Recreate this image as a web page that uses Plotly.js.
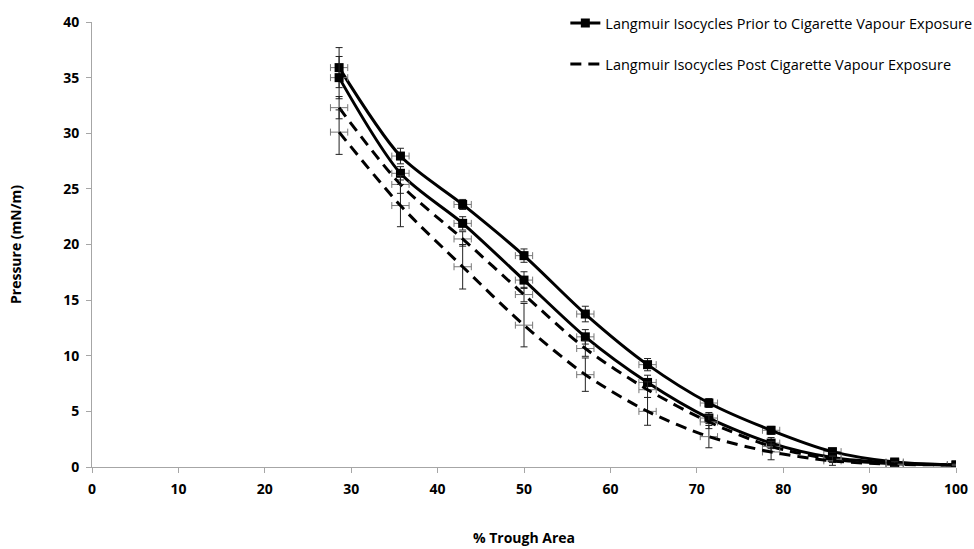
<!DOCTYPE html>
<html>
<head>
<meta charset="utf-8">
<script src="https://cdn.plot.ly/plotly-3.0.1.min.js"></script>
<style>
  html, body { margin: 0; padding: 0; background: #fff; }
  #chart { width: 974px; height: 549px; }
</style>
</head>
<body>
<div id="chart"></div>
<script>
// Trough area (%) at each compression step
const troughArea = [28.6, 35.7, 42.9, 50, 57.1, 64.3, 71.4, 78.6, 85.7, 92.9, 100];

// Surface pressure (mN/m), isocycles before exposure
const priorCycle1 = [35.9, 27.95, 23.6, 19.0, 13.75, 9.2, 5.75, 3.3, 1.38, 0.45, 0.18];
const priorCycle2 = [35.0, 26.4, 21.9, 16.8, 11.7, 7.6, 4.4, 2.15, 0.85, 0.35, 0.18];
const priorErr1   = [1.8, 0.7, 0.45, 0.6, 0.7, 0.55, 0.4, 0.35, 0.3, 0.2, 0.1];
const priorErr2   = [1.9, 0.6, 0.6, 0.75, 0.65, 0.65, 0.5, 0.5, 0.4, 0.2, 0.1];

// Surface pressure (mN/m), isocycles after exposure
const postCycle1 = [32.3, 25.4, 20.5, 15.5, 10.65, 6.95, 4.05, 1.85, 0.7, 0.3, 0.18];
const postCycle2 = [30.1, 23.5, 18.0, 12.75, 8.3, 5.0, 2.73, 1.35, 0.55, 0.25, 0.18];
const postErr1   = [1.0, 0.8, 0.65, 0.65, 0.7, 0.7, 0.6, 0.45, 0.3, 0.2, 0.1];
const postErr2   = [2.0, 1.9, 2.0, 1.95, 1.5, 1.25, 1.0, 0.7, 0.4, 0.2, 0.1];

// Horizontal uncertainty in trough area (%)
const areaErr = 1.0;

const legendNames = [
  'Langmuir Isocycles Prior to Cigarette Vapour Exposure',
  'Langmuir Isocycles Post Cigarette Vapour Exposure'
];

function makeTrace(y, err, prior, showLegend) {
  return {
    type: 'scatter',
    x: troughArea,
    y: y,
    mode: prior ? 'lines+markers' : 'lines',
    name: prior ? legendNames[0] : legendNames[1],
    legendgroup: prior ? 'prior' : 'post',
    showlegend: showLegend,
    line: {
      color: '#000',
      width: 3,
      shape: 'spline',
      smoothing: 0.8,
      dash: prior ? 'solid' : '11px,7px'
    },
    marker: { symbol: 'square', size: 9, color: '#000' },
    error_y: { type: 'data', array: err, visible: true, color: '#222', thickness: 1, width: 3.5 },
    error_x: { type: 'constant', value: areaErr, visible: true, color: '#777', thickness: 1, width: 3.5 },
    hoverinfo: 'x+y'
  };
}

const data = [
  makeTrace(priorCycle1, priorErr1, true, true),
  makeTrace(priorCycle2, priorErr2, true, false),
  makeTrace(postCycle1, postErr1, false, true),
  makeTrace(postCycle2, postErr2, false, false)
];

const tickFont = { family: 'Open Sans, Liberation Sans, sans-serif', size: 14, color: '#000', weight: 'bold' };

const layout = {
  width: 974,
  height: 549,
  paper_bgcolor: '#fff',
  plot_bgcolor: '#fff',
  margin: { l: 92, r: 18, t: 22, b: 82, autoexpand: false },
  showlegend: true,
  legend: {
    x: 1.0247, xanchor: 'right',
    y: 1.0333, yanchor: 'top',
    traceorder: 'grouped',
    tracegroupgap: 19,
    bgcolor: 'rgba(0,0,0,0)',
    font: { family: 'Open Sans, Liberation Sans, sans-serif', size: 14.5, color: '#000' }
  },
  xaxis: {
    range: [0, 100],
    dtick: 10,
    tick0: 0,
    showgrid: false,
    zeroline: false,
    showline: true,
    linecolor: '#a6a6a6',
    linewidth: 1,
    ticks: 'outside',
    ticklen: 5,
    tickcolor: '#a6a6a6',
    ticklabelstandoff: 4,
    tickfont: tickFont,
    title: { text: '% Trough Area', font: tickFont, standoff: 36 }
  },
  yaxis: {
    range: [0, 40],
    dtick: 5,
    tick0: 0,
    showgrid: false,
    zeroline: false,
    showline: true,
    linecolor: '#a6a6a6',
    linewidth: 1,
    ticks: 'outside',
    ticklen: 5,
    tickcolor: '#a6a6a6',
    ticklabelstandoff: 4,
    tickfont: tickFont,
    title: { text: 'Pressure (mN/m)', font: tickFont, standoff: 38 }
  }
};

Plotly.newPlot('chart', data, layout, { displayModeBar: false, staticPlot: true });
</script>
</body>
</html>
